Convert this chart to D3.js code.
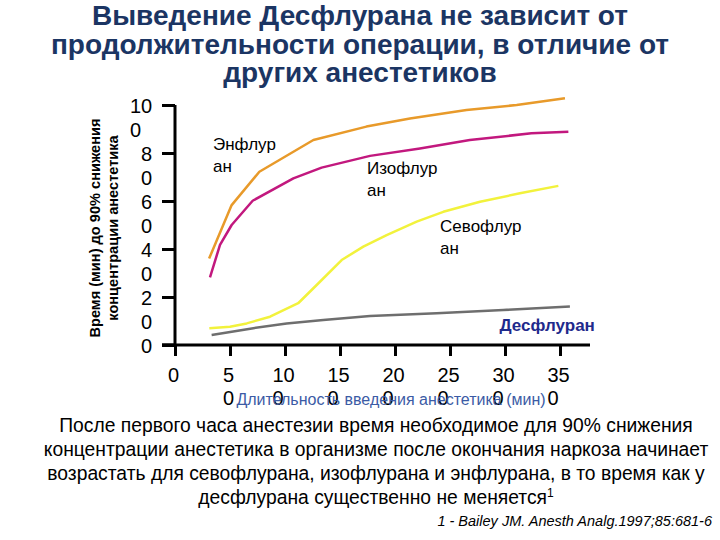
<!DOCTYPE html>
<html><head><meta charset="utf-8">
<script src="https://cdn.jsdelivr.net/npm/d3@7"></script>
<style>body{margin:0;background:#fff}svg{display:block}</style>
</head><body>
<svg id="c" width="720" height="540"></svg>
<script>
const titleLines = ["Выведение Десфлурана не зависит от","продолжительности операции, в отличие от","других анестетиков"];
const xTicks = [0,50,100,150,200,250,300,350];
const yTicks = [0,20,40,60,80,100];
const enflurane = [[31,36],[51.5,58.3],[76.7,72.2],[125.8,85.4],[174,91],[213.6,94.4],[265,97.9],[310.6,100],[354.5,102.8]];
const isoflurane = [[31.8,28.2],[40.9,41.7],[51.5,50],[70.6,60.1],[107.6,69.4],[133.3,73.9],[177.3,78.8],[222.7,81.9],[268,85.4],[324,88.2],[357.6,88.9]];
const sevoflurane = [[31.2,7],[50,7.6],[65.2,9],[86.4,11.8],[112,17.4],[128.8,25],[151.5,35.4],[171.2,41],[192.4,45.8],[219.7,51.4],[243.9,55.5],[277.3,59.7],[313.6,63.2],[348.5,66.3]];
const desflurane = [[33.3,4.2],[71.2,7],[101.5,9],[134.8,10.4],[177.3,12.1],[237.9,13.2],[298.5,14.6],[359,16]];
const seriesNames = ["Энфлуран","Изофлуран","Севофлуран","Десфлуран"];
const labelLines = [["Энфлур","ан"],["Изофлур","ан"],["Севофлур","ан"],["Десфлуран"]];
const labelPos = [[34.5,81.3],[174.5,71.3],[241,47],[295,5.8]];
const yTitle = ["Время (мин) до 90% снижения","концентрации анестетика"];
const xTitle = "Длительность введения анестетика (мин)";
const footLines = ["После первого часа анестезии  время необходимое для 90% снижения","концентрации анестетика в организме после окончания наркоза начинает","возрастать для севофлурана, изофлурана и энфлурана, в то время как у","десфлурана существенно не меняется"];
const citation = "1 - Bailey JM. Anesth Analg.1997;85:681-6";

const svg = d3.select("#c");
const F = "Liberation Sans, Arial, sans-serif";
const x = d3.scaleLinear().domain([0,350]).range([175,560]);
const y = d3.scaleLinear().domain([0,100]).range([345,105]);

// title
svg.append("g").selectAll("text").data(titleLines).join("text")
  .attr("x",360).attr("y",(d,i)=>25+i*28.5).attr("text-anchor","middle")
  .attr("font-family",F).attr("font-weight","bold").attr("font-size",28)
  .attr("fill","#1B3563").text(d=>d);

// axes
const splitLabel = v => { const s = String(v); return s.length>1 ? [s.slice(0,-1), s.slice(-1)] : [s]; };
const gy = svg.append("g").attr("transform","translate(175,0)")
  .call(d3.axisLeft(y).tickValues(yTicks).tickSize(13).tickSizeOuter(0).tickFormat(""));
gy.select(".domain").attr("stroke","#000").attr("stroke-width",3).attr("d","M0,105V346");
gy.selectAll(".tick line").attr("stroke","#000").attr("stroke-width",3);
gy.selectAll(".tick").each(function(d){
  const lines = splitLabel(d);
  const w = lines[0].length*11;
  const t = d3.select(this).append("text").attr("font-family",F).attr("font-size",20)
    .attr("fill","#000").attr("text-anchor","start");
  lines.forEach((l,i)=>t.append("tspan").attr("x",-23-w).attr("y",7+i*24).text(l));
});
const gx = svg.append("g").attr("transform","translate(0,345)")
  .call(d3.axisBottom(x).tickValues(xTicks).tickSize(11).tickSizeOuter(0).tickFormat(""));
gx.select(".domain").attr("stroke","#000").attr("stroke-width",3).attr("d","M162,0H590");
gx.selectAll(".tick line").attr("stroke","#000").attr("stroke-width",3);
gx.selectAll(".tick").each(function(d){
  const lines = splitLabel(d);
  const w = lines[0].length*11;
  const t = d3.select(this).append("text").attr("font-family",F).attr("font-size",20)
    .attr("fill","#000").attr("text-anchor","start");
  lines.forEach((l,i)=>t.append("tspan").attr("x",-w/2-2).attr("y",37+i*23).text(l));
});
svg.append("line").attr("x1",162).attr("x2",176).attr("y1",345).attr("y2",345).attr("stroke","#000").attr("stroke-width",3);

// axis titles
svg.append("text").attr("x",391).attr("y",405).attr("text-anchor","middle")
  .attr("font-family",F).attr("font-size",16).attr("fill","#3B5BA5").text(xTitle);
svg.append("g").attr("transform","translate(100,228) rotate(-90)").selectAll("text").data(yTitle).join("text")
  .attr("x",0).attr("y",(d,i)=>i*18).attr("text-anchor","middle")
  .attr("font-family",F).attr("font-weight","bold").attr("font-size",14.6).attr("fill","#000").text(d=>d);

// lines
const data = [enflurane,isoflurane,sevoflurane,desflurane];
const colors = ["#E89A2A","#C2187E","#F2F23C","#6E6E6E"];
const line = d3.line().x(d=>x(d[0])).y(d=>y(d[1]));
svg.append("g").selectAll("path").data(data).join("path")
  .attr("d",line).attr("fill","none").attr("stroke",(d,i)=>colors[i]).attr("stroke-width",2.5)
  .attr("stroke-linejoin","round");

// series labels
labelLines.forEach((ls,i)=>{
  const t = svg.append("text").attr("font-family",F)
    .attr("font-size",17).attr("fill", i===3?"#1F2A8C":"#000").attr("font-weight", i===3?"bold":"normal");
  ls.forEach((l,j)=>t.append("tspan").attr("x",x(labelPos[i][0])).attr("y",y(labelPos[i][1])+j*22).text(l));
});

// footnote
const ft = svg.append("g").selectAll("text").data(footLines).join("text")
  .attr("x",376).attr("y",(d,i)=>432+i*24).attr("text-anchor","middle")
  .attr("font-family",F).attr("font-size",19.3).attr("fill","#000");
ft.each(function(d,i){
  d3.select(this).text(null).append("tspan").text(d);
  if(i===footLines.length-1) d3.select(this).append("tspan").attr("dy",-7).attr("font-size",12).text("1");
});
svg.append("text").attr("x",712).attr("y",526).attr("text-anchor","end")
  .attr("font-family",F).attr("font-style","italic").attr("font-size",14.5).attr("fill","#000").text(citation);
</script>
</body></html>
